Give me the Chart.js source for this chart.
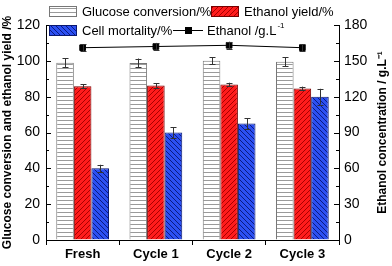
<!DOCTYPE html>
<html>
<head>
<meta charset="utf-8">
<script src="https://cdn.jsdelivr.net/npm/chart.js@4.4.1/dist/chart.umd.min.js"></script>
<style>
  html, body { margin: 0; padding: 0; background: #fff; }
  canvas { display: block; }
</style>
</head>
<body>
<canvas id="chart" width="392" height="266"></canvas>
<script>
// Data
const categories = ['Fresh', 'Cycle 1', 'Cycle 2', 'Cycle 3'];
const glucoseConversion = [99, 98.8, 100, 99.5];
const glucoseErr = [2.5, 2.5, 2, 2.5];
const ethanolYield = [85.8, 86.2, 86.8, 84.6];
const ethanolYieldErr = [1, 1.2, 1, 1];
const cellMortality = [40, 60, 65, 80];
const cellMortalityErr = [2, 3, 3, 4.4];
const ethanolConc = [161, 162, 163, 161];
const ethanolConcErr = [3, 3, 3, 3];

Chart.defaults.font.family = 'Arial, "Liberation Sans", sans-serif';
Chart.defaults.color = '#000';

// Hatch patterns
function stripePattern(bg, fg, kind) {
    let c = document.createElement('canvas');
    let s = kind === 'h' ? 4 : 5;
    c.width = s; c.height = s;
    let g = c.getContext('2d');
    g.fillStyle = bg;
    g.fillRect(0, 0, s, s);
    g.strokeStyle = fg;
    g.lineWidth = 1;
    g.beginPath();
    if (kind === 'h') {
        g.moveTo(0, 0.5); g.lineTo(s, 0.5);
    } else if (kind === '/') {
        g.moveTo(0, s); g.lineTo(s, 0);
        g.moveTo(-1, 1); g.lineTo(1, -1);
        g.moveTo(s - 1, s + 1); g.lineTo(s + 1, s - 1);
    } else {
        g.moveTo(0, 0); g.lineTo(s, s);
        g.moveTo(s - 1, -1); g.lineTo(s + 1, 1);
        g.moveTo(-1, s - 1); g.lineTo(1, s + 1);
    }
    g.stroke();
    return document.getElementById('chart').getContext('2d').createPattern(c, 'repeat');
}

const glucoseFill = stripePattern('#ffffff', '#9a9a9a', 'h');
const yieldFill = stripePattern('#ff1c1c', '#a80000', '/');
const mortalityFill = stripePattern('#2c50f2', '#0c1a80', '\\');

// Error bars for every dataset
const errorBars = {
    id: 'errorBars',
    afterDatasetsDraw(chart) {
        let ctx = chart.ctx;
        ctx.save();
        ctx.strokeStyle = '#333';
        ctx.lineWidth = 1;
        chart.data.datasets.forEach((ds, i) => {
            let meta = chart.getDatasetMeta(i);
            let scale = chart.scales[meta.yAxisID];
            meta.data.forEach((el, j) => {
                let v = ds.data[j], e = ds.err[j];
                let x = Math.round(el.x) + 0.5;
                let yTop = scale.getPixelForValue(v + e);
                let yBot = scale.getPixelForValue(v - e);
                ctx.beginPath();
                ctx.moveTo(x, yTop); ctx.lineTo(x, yBot);
                ctx.moveTo(x - 3, Math.round(yTop) + 0.5); ctx.lineTo(x + 3, Math.round(yTop) + 0.5);
                ctx.moveTo(x - 3, Math.round(yBot) + 0.5); ctx.lineTo(x + 3, Math.round(yBot) + 0.5);
                ctx.stroke();
            });
        });
        ctx.restore();
    }
};

// Inward ticks on both value axes, with minor ticks, plus the right title
const innerTicks = {
    id: 'innerTicks',
    afterDraw(chart) {
        let ctx = chart.ctx;
        ctx.save();
        ctx.strokeStyle = '#000';
        ctx.lineWidth = 1;
        [['y', chart.chartArea.left, 1], ['y1', chart.chartArea.right, -1]].forEach(([id, x0, dir]) => {
            let sc = chart.scales[id];
            let ticks = sc.ticks.map(t => t.value);
            let step = ticks[1] - ticks[0];
            ticks.forEach(v => {
                let y = Math.round(sc.getPixelForValue(v)) + 0.5;
                ctx.beginPath();
                ctx.moveTo(x0, y); ctx.lineTo(x0 + dir * 5, y);
                ctx.stroke();
                if (v + step / 2 <= sc.max) {
                    let ym = Math.round(sc.getPixelForValue(v + step / 2)) + 0.5;
                    ctx.beginPath();
                    ctx.moveTo(x0, ym); ctx.lineTo(x0 + dir * 3, ym);
                    ctx.stroke();
                }
            });
        });
        // right axis title, read bottom to top like the left one
        let sc1 = chart.scales.y1;
        ctx.translate(chart.width - 9, (sc1.top + sc1.bottom) / 2);
        ctx.rotate(-Math.PI / 2);
        ctx.font = 'bold 12px Arial, "Liberation Sans", sans-serif';
        ctx.textAlign = 'center';
        ctx.textBaseline = 'middle';
        ctx.fillStyle = '#000';
        ctx.fillText('Ethanol concentration / g.L⁻¹', 0, 0);
        ctx.restore();
    }
};

// Two-row legend inside the top of the chart
const customLegend = {
    id: 'customLegend',
    afterDraw(chart) {
        let ctx = chart.ctx;
        let ds = chart.data.datasets;
        ctx.save();
        ctx.font = '13px Arial, "Liberation Sans", sans-serif';
        ctx.textBaseline = 'middle';
        ctx.fillStyle = '#000';
        let boxes = [
            { d: ds[0], x: 49, y: 6 },
            { d: ds[1], x: 211, y: 6 },
            { d: ds[2], x: 49, y: 25 }
        ];
        boxes.forEach(b => {
            ctx.fillStyle = b.d.backgroundColor;
            ctx.fillRect(b.x, b.y, 27, 10);
            ctx.strokeStyle = b.d.borderColor;
            ctx.lineWidth = 1;
            ctx.strokeRect(b.x + 0.5, b.y + 0.5, 27, 10);
            ctx.fillStyle = '#000';
            ctx.fillText(b.d.label, b.x + 33, b.y + 6);
        });
        // line sample
        ctx.strokeStyle = '#000';
        ctx.beginPath();
        ctx.moveTo(173, 30.5); ctx.lineTo(203, 30.5);
        ctx.stroke();
        ctx.fillStyle = '#000';
        ctx.fillRect(185, 27, 7, 7);
        ctx.fillText('Ethanol /g.L', 207, 31);
        let w = ctx.measureText('Ethanol /g.L').width;
        ctx.font = '8px Arial, "Liberation Sans", sans-serif';
        ctx.fillText('-1', 207 + w + 1, 26);
        ctx.restore();
    }
};

new Chart(document.getElementById('chart'), {
    data: {
        labels: categories,
        datasets: [
            {
                type: 'bar', label: 'Glucose conversion/%', data: glucoseConversion, err: glucoseErr,
                backgroundColor: glucoseFill, borderColor: '#777', borderWidth: 1, yAxisID: 'y', order: 2
            },
            {
                type: 'bar', label: 'Ethanol yield/%', data: ethanolYield, err: ethanolYieldErr,
                backgroundColor: yieldFill, borderColor: '#700', borderWidth: 1, yAxisID: 'y', order: 2
            },
            {
                type: 'bar', label: 'Cell mortality/%', data: cellMortality, err: cellMortalityErr,
                backgroundColor: mortalityFill, borderColor: '#0a1870', borderWidth: 1, yAxisID: 'y', order: 2
            },
            {
                type: 'line', label: 'Ethanol /g.L-1', data: ethanolConc, err: ethanolConcErr,
                borderColor: '#000', backgroundColor: '#000', borderWidth: 1,
                pointStyle: 'rect', pointRadius: 4, yAxisID: 'y1', order: 1
            }
        ]
    },
    options: {
        responsive: false,
        devicePixelRatio: 1,
        animation: false,
        layout: { padding: { top: 25, left: 0, right: 0, bottom: 0 } },
        plugins: { legend: { display: false }, tooltip: { enabled: false } },
        datasets: { bar: { categoryPercentage: 0.72, barPercentage: 1 } },
        scales: {
            x: {
                offset: true,
                grid: { offset: true, drawOnChartArea: false, tickLength: 5, color: '#000' },
                border: { color: '#000' },
                ticks: { font: { size: 13, weight: 'bold' }, padding: 2 },
                afterFit(s) { s.height = 26; }
            },
            y: {
                position: 'left', min: 0, max: 120,
                grid: { drawOnChartArea: false, drawTicks: false },
                border: { color: '#000' },
                ticks: { stepSize: 20, font: { size: 14 }, padding: 6 },
                title: { display: true, text: 'Glucose conversion and ethanol yield /%', font: { size: 12, weight: 'bold' }, padding: 0 },
                afterFit(s) { s.width = 46; }
            },
            y1: {
                position: 'right', min: 0, max: 180,
                grid: { drawOnChartArea: false, drawTicks: false },
                border: { color: '#000' },
                ticks: { stepSize: 30, font: { size: 14 }, padding: 5 },
                afterFit(s) { s.width = 53; }
            }
        }
    },
    plugins: [errorBars, innerTicks, customLegend]
});
</script>
</body>
</html>
